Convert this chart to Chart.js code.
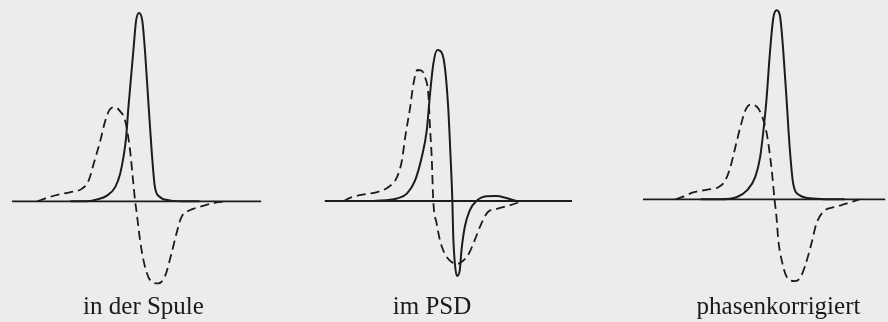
<!DOCTYPE html>
<html>
<head>
<meta charset="utf-8">
<script src="https://cdn.jsdelivr.net/npm/chart.js@4.4.1/dist/chart.umd.min.js"></script>
<style>
  html, body { margin: 0; padding: 0; background: #ececec; }
  #wrap { position: relative; width: 888px; height: 322px; overflow: hidden; }
  #wrap canvas { position: absolute; top: 0; }
</style>
</head>
<body>
<div id="wrap"></div>
<script>
// Bildunterschriften der drei Spektren
const captions = ['in der Spule', 'im PSD', 'phasenkorrigiert'];

// Punkte als [Frequenzablage, Amplitude]; Amplitude 1 = Maximum des Absorptionssignals
const spuleAbs = [
  [-6.9, 0], [-5.4, 0], [-4.23, 0.01], [-3.23, 0.03], [-2.4, 0.075], [-1.9, 0.146],
  [-1.57, 0.233], [-1.3, 0.338], [-1.07, 0.496], [-0.57, 0.795],
  [-0.3, 0.953], [0, 0.995], [0.33, 0.953], [0.6, 0.795], [0.93, 0.532],
  [1.27, 0.268], [1.6, 0.075], [2.1, 0.023], [3.1, 0.005], [4.77, 0], [6.1, 0]
];
const spuleDisp = [
  [-10.23, 0], [-9.4, 0.016], [-8.4, 0.032], [-6.9, 0.049], [-5.73, 0.067],
  [-5.07, 0.11], [-4.57, 0.198], [-3.9, 0.32], [-3.4, 0.426], [-2.9, 0.488],
  [-2.4, 0.497], [-1.9, 0.475], [-1.4, 0.426], [-0.9, 0.268], [-0.6, 0.11],
  [-0.4, 0.005], [-0.23, -0.063], [0.1, -0.205], [0.6, -0.346], [1.27, -0.425],
  [1.93, -0.433], [2.6, -0.398], [3.27, -0.275], [3.77, -0.17], [4.27, -0.083],
  [5.1, -0.047], [6.1, -0.03], [7.4, -0.011], [8.6, 0]
];

const psdAbs = [
  [-6.6, 0], [-4.23, 0.013], [-3.23, 0.039], [-2.4, 0.109], [-1.73, 0.232],
  [-1.23, 0.372], [-0.9, 0.565], [-0.57, 0.723], [-0.17, 0.797], [0.27, 0.784],
  [0.6, 0.705], [0.93, 0.495], [1.17, 0.232], [1.35, 0], [1.43, -0.172],
  [1.6, -0.329], [1.83, -0.396], [2.1, -0.365], [2.27, -0.259], [2.6, -0.137],
  [3.1, -0.049], [3.77, 0], [4.77, 0.025], [5.77, 0.026], [6.77, 0.016], [7.77, 0]
];
const psdDisp = [
  [-9.57, 0], [-8.9, 0.018], [-7.57, 0.035], [-6.23, 0.047], [-5.07, 0.074],
  [-4.23, 0.126], [-3.73, 0.214], [-3.4, 0.337], [-2.9, 0.495], [-2.57, 0.618],
  [-2.17, 0.692], [-1.73, 0.688], [-1.4, 0.653], [-1.07, 0.565], [-0.9, 0.389],
  [-0.73, 0.232], [-0.57, 0], [-0.23, -0.119], [0.1, -0.207], [0.43, -0.26],
  [0.77, -0.295], [1.3, -0.323], [1.8, -0.333], [2.4, -0.317], [2.93, -0.286],
  [3.6, -0.207], [4.27, -0.119], [4.93, -0.058], [5.93, -0.04], [7.1, -0.023], [8.43, 0]
];

const korrAbs = [
  [-7.7, 0], [-5.7, 0], [-4.03, 0.012], [-3.03, 0.047], [-2.2, 0.117], [-1.7, 0.223],
  [-1.37, 0.363], [-1.07, 0.521], [-0.7, 0.784], [-0.37, 0.959], [-0.03, 0.998],
  [0.3, 0.968], [0.63, 0.784], [0.97, 0.521], [1.3, 0.258], [1.63, 0.083],
  [2.3, 0.021], [3.63, 0.004], [5.3, 0], [6.8, 0]
];
const korrDisp = [
  [-10.2, 0], [-9.37, 0.016], [-8.37, 0.038], [-7.03, 0.051], [-5.87, 0.065],
  [-5.2, 0.1], [-4.7, 0.17], [-4.2, 0.275], [-3.7, 0.38], [-3.2, 0.468],
  [-2.7, 0.5], [-2.03, 0.489], [-1.53, 0.442], [-1.03, 0.346], [-0.53, 0.153],
  [-0.25, 0], [-0.05, -0.095], [0.13, -0.216], [0.47, -0.321], [0.97, -0.409],
  [1.8, -0.432], [2.3, -0.417], [2.8, -0.356], [3.47, -0.233], [3.97, -0.128],
  [4.63, -0.067], [5.8, -0.041], [6.97, -0.023], [8.3, 0]
];

// Nulllinie je Spektrum: Anfang und Ende auf der Frequenzachse
const nullLinien = [[-12.8, 12.3], [-11.5, 13.4], [-13.5, 10.9]];

const spektren = [
  { abs: spuleAbs, disp: spuleDisp },
  { abs: psdAbs, disp: psdDisp },
  { abs: korrAbs, disp: korrDisp }
];

// Lage der Diagramme auf der Seite (Pixel)
const panels = [
  { left: 0,   width: 287, peakPx: 139, zeroPx: 201 },
  { left: 287, width: 290, peakPx: 439, zeroPx: 200.7 },
  { left: 642, width: 273, peakPx: 777, zeroPx: 199 }
];
const pxPerX = 10;   // Pixel je Frequenzeinheit
const pxPerY = 190;  // Pixel je Amplitudeneinheit

const ink = '#1c1c1c';
const wrap = document.getElementById('wrap');

panels.forEach((p, i) => {
  const canvas = document.createElement('canvas');
  canvas.width = p.width;
  canvas.height = 322;
  canvas.style.left = p.left + 'px';
  wrap.appendChild(canvas);

  const nl = nullLinien[i];
  const chart = new Chart(canvas.getContext('2d'), {
    type: 'line',
    data: {
      datasets: [
        {
          label: 'Nulllinie',
          data: [[nl[0], 0], [nl[1], 0]],
          borderColor: ink,
          borderWidth: 1.8,
          pointRadius: 0
        },
        {
          label: 'Absorption',
          data: spektren[i].abs,
          borderColor: ink,
          borderWidth: 2,
          pointRadius: 0,
          cubicInterpolationMode: 'monotone'
        },
        {
          label: 'Dispersion',
          data: spektren[i].disp,
          borderColor: ink,
          borderWidth: 1.8,
          borderDash: [9, 5],
          pointRadius: 0,
          cubicInterpolationMode: 'monotone'
        }
      ]
    },
    options: {
      responsive: false,
      animation: false,
      layout: { padding: 0 },
      scales: {
        x: { type: 'linear', display: false, min: -10, max: 10 },
        y: { type: 'linear', display: false, min: -0.5, max: 1.1 }
      },
      plugins: {
        legend: { display: false },
        tooltip: { enabled: false },
        title: {
          display: true,
          position: 'bottom',
          text: captions[i],
          color: '#1a1a1a',
          font: { family: '"Liberation Serif", "Times New Roman", serif', size: 25, weight: 'normal' },
          padding: { top: 0, bottom: 0 }
        }
      }
    }
  });

  // Skalen so setzen, dass Nullpunkt und Maßstab zur Seitenlage passen
  const a = chart.chartArea;
  const x0 = p.peakPx - p.left;
  chart.options.scales.x.min = (a.left - x0) / pxPerX;
  chart.options.scales.x.max = (a.right - x0) / pxPerX;
  chart.options.scales.y.max = (p.zeroPx - a.top) / pxPerY;
  chart.options.scales.y.min = -(a.bottom - p.zeroPx) / pxPerY;
  chart.update('none');
});
</script>
</body>
</html>
